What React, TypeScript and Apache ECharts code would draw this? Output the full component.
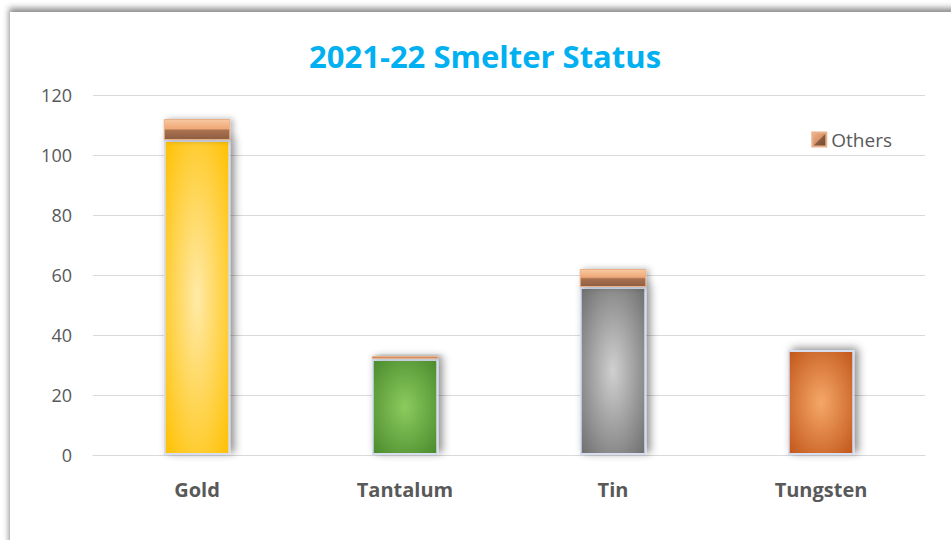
import React, { useEffect, useRef } from "react";
import * as echarts from "echarts";

const categories = ["Gold", "Tantalum", "Tin", "Tungsten"];
const baseValues = [105, 32, 56, 35];
const othersValues = [7, 1, 6, 0];
const yTicks = [0, 20, 40, 60, 80, 100, 120];
const titleText = "2021-22 Smelter Status";
const othersName = "Others";

const baseColors = [
  ["#FFEAA8", "#FFC000"],
  ["#8CCB5E", "#4A8A2C"],
  ["#D0D0D0", "#6E6E6E"],
  ["#F5A868", "#C2561A"],
];

const FONT = "'Open Sans', 'Liberation Sans', sans-serif";

export default function App() {
  const ref = useRef<HTMLDivElement>(null);
  useEffect(() => {
    if (!ref.current) return;
    const chart = echarts.init(ref.current, null, { renderer: "svg" });
    const othersGradient = new echarts.graphic.LinearGradient(0, 0, 0, 1, [
      { offset: 0, color: "#F9C9A2" },
      { offset: 0.45, color: "#EFA877" },
      { offset: 0.55, color: "#A87150" },
      { offset: 1, color: "#8E5E40" },
    ]);
    const legendGradient = new echarts.graphic.LinearGradient(0, 0, 1, 1, [
      { offset: 0, color: "#F2B48A" },
      { offset: 0.5, color: "#D8946A" },
      { offset: 0.52, color: "#8E5E40" },
      { offset: 1, color: "#6E4630" },
    ]);
    chart.setOption({
      animation: false,
      backgroundColor: "transparent",
      title: {
        text: titleText,
        left: 304,
        top: 35,
        textStyle: { fontFamily: FONT, fontSize: 31, fontWeight: "bold", color: "#00B0F0" },
      },
      legend: {
        data: [{ name: othersName, itemStyle: { color: legendGradient } }],
        icon: "rect",
        right: 54,
        top: 125,
        itemWidth: 14,
        itemHeight: 14,
        itemGap: 4,
        textStyle: { fontFamily: FONT, fontSize: 19, color: "#595959" },
      },
      grid: { left: 93, right: 26, top: 95, bottom: 85, containLabel: false },
      xAxis: {
        type: "category",
        data: categories,
        axisLine: { lineStyle: { color: "#D9D9D9", width: 1 } },
        axisTick: { show: false },
        axisLabel: {
          fontFamily: FONT,
          fontSize: 20,
          fontWeight: "bold",
          color: "#595959",
          margin: 24,
        },
      },
      yAxis: {
        type: "value",
        min: yTicks[0],
        max: yTicks[yTicks.length - 1],
        interval: 20,
        axisLine: { show: false },
        axisTick: { show: false },
        splitLine: { lineStyle: { color: "#D9D9D9", width: 1 } },
        axisLabel: { fontFamily: FONT, fontSize: 18, color: "#595959", margin: 21 },
      },
      series: [
        {
          name: "Base",
          type: "bar",
          stack: "total",
          barWidth: "32%",
          data: baseValues.map((v, i) => ({
            value: v,
            itemStyle: {
              color: new echarts.graphic.RadialGradient(0.5, 0.5, 0.7, [
                { offset: 0, color: baseColors[i][0] },
                { offset: 1, color: baseColors[i][1] },
              ]),
              borderColor: "#D6DEF0",
              borderWidth: 2,
              shadowColor: "rgba(0,0,0,0.45)",
              shadowBlur: 8,
              shadowOffsetX: 4,
              shadowOffsetY: -2,
            },
          })),
        },
        {
          name: othersName,
          type: "bar",
          stack: "total",
          barWidth: "32%",
          data: othersValues,
          itemStyle: {
            color: othersGradient,
            borderColor: "#E9B08A",
            borderWidth: 1,
            shadowColor: "rgba(0,0,0,0.3)",
            shadowBlur: 6,
            shadowOffsetX: 3,
          },
        },
      ],
    });
    return () => chart.dispose();
  }, []);
  return (
    <div style={{ position: "fixed", left: 0, top: 0, width: 951, height: 540, background: "#fff", overflow: "hidden" }}>
      <div
        style={{
          position: "absolute",
          left: 10,
          top: 12,
          width: 960,
          height: 560,
          background: "#fff",
          boxShadow: "0 -3px 6px 1px rgba(0,0,0,0.45)",
        }}
      />
      <div ref={ref} style={{ position: "absolute", left: 0, top: 0, width: 951, height: 540 }} />
    </div>
  );
}
